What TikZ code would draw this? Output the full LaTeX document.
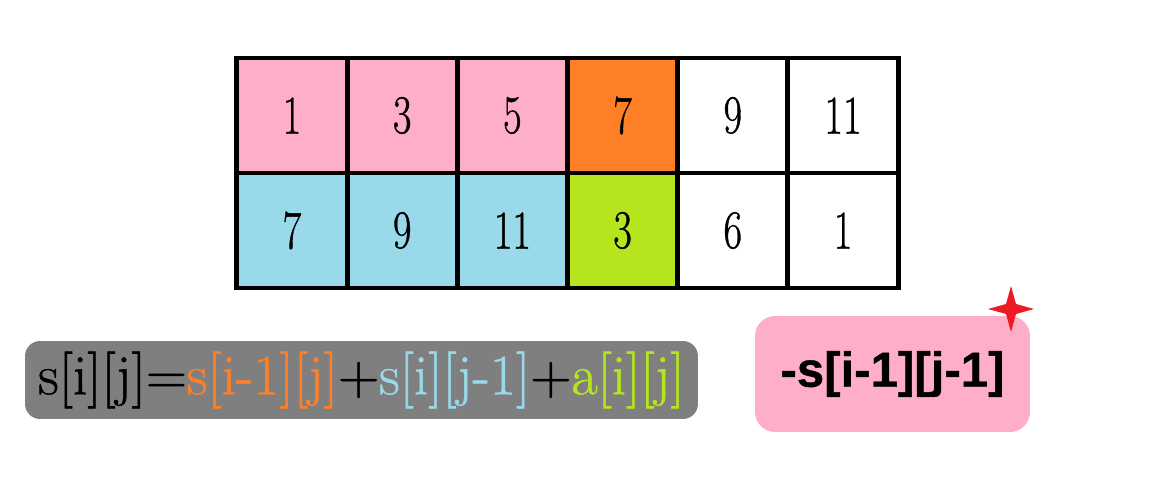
\documentclass[tikz,border=0pt]{standalone}
\usepackage{fontspec}
\newfontfamily\boxfont[FakeBold=0.8]{Liberation Sans Bold}
\newfontfamily\thickfont[FakeBold=0.9]{Latin Modern Roman}
\usepackage{graphicx}
\usepackage{xcolor}
\definecolor{cellpink}{RGB}{255,174,201}
\definecolor{cellorange}{RGB}{255,127,39}
\definecolor{cellblue}{RGB}{153,217,234}
\definecolor{celllime}{RGB}{181,230,29}
\definecolor{boxgray}{RGB}{127,127,127}
\definecolor{starred}{RGB}{237,28,36}
\tikzstyle{cell} = [draw=black, line width=2.8pt, minimum width=2.204cm, minimum height=2.3cm, inner sep=0pt, font=\thickfont\fontsize{23}{27}\selectfont]
\newcommand{\tallnum}[1]{\scalebox{1}[1.35]{#1}}

\begin{document}
\begin{tikzpicture}[x=0.02cm, y=-0.02cm]
		\useasboundingbox (0, 0) rectangle (1150, 486);
		% first row
		\node[cell, fill=cellpink] (a1) at (292, 115.5) {\tallnum{1}};
		\node[cell, fill=cellpink] (a2) at (402.2, 115.5) {\tallnum{3}};
		\node[cell, fill=cellpink] (a3) at (512.4, 115.5) {\tallnum{5}};
		\node[cell, fill=cellorange] (a4) at (622.6, 115.5) {\tallnum{7}};
		\node[cell, fill=white] (a5) at (732.8, 115.5) {\tallnum{9}};
		\node[cell, fill=white] (a6) at (843, 115.5) {\tallnum{11}};
		% second row
		\node[cell, fill=cellblue] (s1) at (292, 230.5) {\tallnum{7}};
		\node[cell, fill=cellblue] (s2) at (402.2, 230.5) {\tallnum{9}};
		\node[cell, fill=cellblue] (s3) at (512.4, 230.5) {\tallnum{11}};
		\node[cell, fill=celllime] (s4) at (622.6, 230.5) {\tallnum{3}};
		\node[cell, fill=white] (s5) at (732.8, 230.5) {\tallnum{6}};
		\node[cell, fill=white] (s6) at (843, 230.5) {\tallnum{1}};
		% formula and correction
		\node[fill=boxgray, rounded corners=0.3cm, minimum width=13.46cm, minimum height=1.56cm, font=\thickfont\fontsize{32.5}{36}\selectfont] (recur) at (361.5, 380) {s[i][j]=\textcolor{cellorange}{s[i-1][j]}+\textcolor{cellblue}{s[i][j-1]}+\textcolor{celllime}{a[i][j]}};
		\node[fill=cellpink, rounded corners=0.4cm, minimum width=5.5cm, minimum height=2.32cm, font=\boxfont\fontsize{28}{32}\selectfont] (corr) at (892.5, 374) {-s[i-1][j-1]};
		% star
		\fill[starred] (1011, 286) -- (1016, 304) -- (1034, 309) -- (1016, 314) -- (1011, 332) -- (1006, 314) -- (988, 309) -- (1006, 304) -- cycle;
		\end{tikzpicture}
\end{document}
